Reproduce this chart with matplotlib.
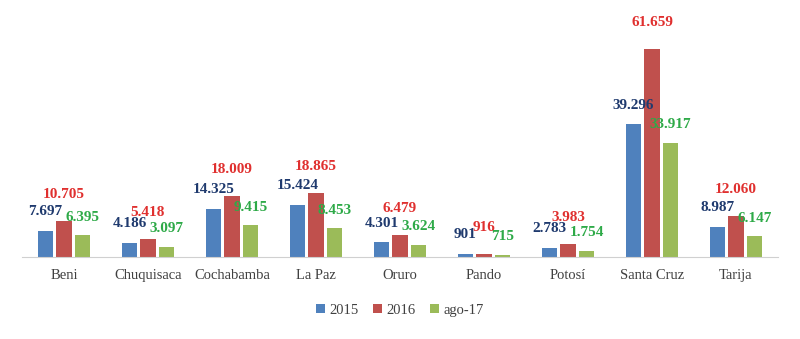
import numpy as np
import matplotlib.pyplot as plt

departamentos = ["Beni", "Chuquisaca", "Cochabamba", "La Paz", "Oruro",
                 "Pando", "Potosí", "Santa Cruz", "Tarija"]
v2015 = [7697, 4186, 14325, 15424, 4301, 901, 2783, 39296, 8987]
v2016 = [10705, 5418, 18009, 18865, 6479, 916, 3983, 61659, 12060]
vago17 = [6395, 3097, 9415, 8453, 3624, 715, 1754, 33917, 6147]
series = ["2015", "2016", "ago-17"]

bar_colors = ["#4f81bd", "#c0504d", "#9bbb59"]
text_colors = ["#1f3a6e", "#e0302f", "#2eaa48"]
label_offsets = [14, 19, 13]  # points above the bar top


def fmt(v):
    return f"{v:,}".replace(",", ".")


fig = plt.figure(figsize=(8, 3.39), dpi=100)
ax = fig.add_axes([0.0275, 0.242, 0.945, 0.728])

x = np.arange(len(departamentos))
w = 0.18
step = 0.22
for k, (vals, name) in enumerate(zip([v2015, v2016, vago17], series)):
    xs = x + (k - 1) * step
    ax.bar(xs, vals, width=w, color=bar_colors[k], label=name, zorder=2)
    for xi, v in zip(xs, vals):
        ax.annotate(fmt(v), (xi, v), xytext=(0, label_offsets[k]),
                    textcoords="offset points", ha="center", va="center",
                    fontsize=11, fontweight="bold", color=text_colors[k],
                    family="Liberation Serif", zorder=3 + k)

ax.set_xlim(-0.5, 8.5)
ax.set_ylim(0, 73200)
ax.set_yticks([])
ax.set_xticks(x)
ax.set_xticklabels(departamentos, family="Liberation Serif", fontsize=10.5,
                   color="#404040")
ax.tick_params(axis="x", length=0, pad=9)
for s in ["top", "right", "left"]:
    ax.spines[s].set_visible(False)
ax.spines["bottom"].set_color("#d0d0d0")
ax.patch.set_alpha(0)

fig.legend(loc="center", bbox_to_anchor=(0.5, 0.085), ncol=3, frameon=False,
           handlelength=0.6, handleheight=0.6, handletextpad=0.3,
           columnspacing=1.0, prop={"family": "Liberation Serif", "size": 10.5},
           labelcolor="#404040")

fig.savefig("out.png", dpi=100)
